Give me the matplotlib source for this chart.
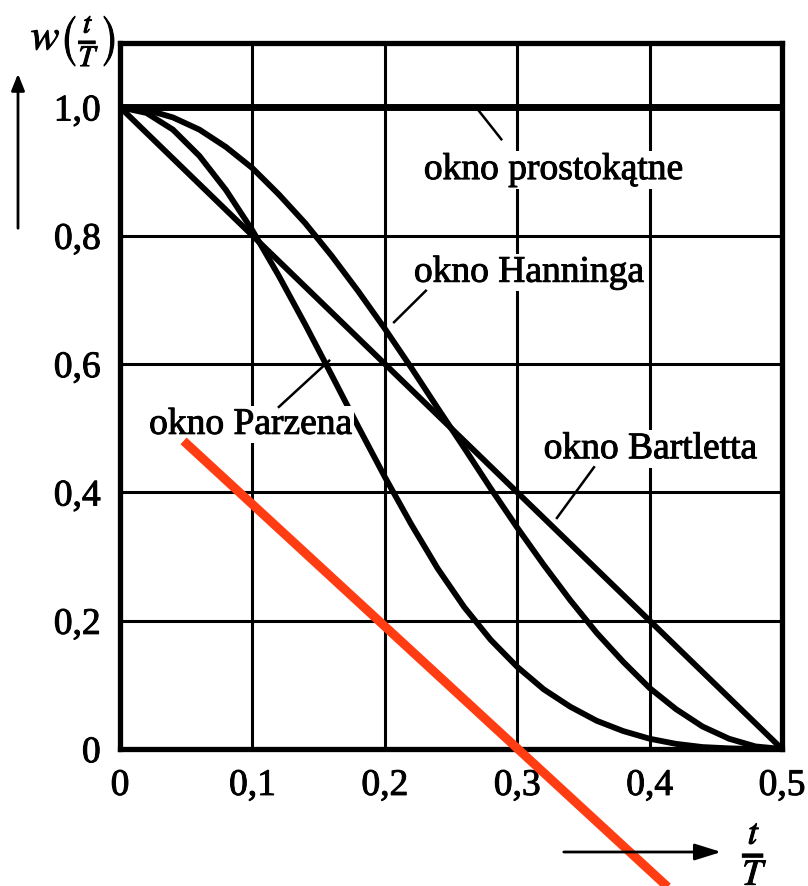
import matplotlib
matplotlib.use("Agg")
import matplotlib.pyplot as plt
import matplotlib.patheffects as pe

plt.rcParams["font.family"] = ["Liberation Serif", "DejaVu Serif"]
plt.rcParams["mathtext.fontset"] = "stix"

# normalised time t/T
t_over_T = [0.00, 0.02, 0.04, 0.06, 0.08, 0.10, 0.12, 0.14, 0.16, 0.18, 0.20,
            0.22, 0.24, 0.26, 0.28, 0.30, 0.32, 0.34, 0.36, 0.38, 0.40, 0.42,
            0.44, 0.46, 0.48, 0.50]

# window values w(t/T)
rect_w = [1.0] * len(t_over_T)
bartlett_w = [1.00, 0.96, 0.92, 0.88, 0.84, 0.80, 0.76, 0.72, 0.68, 0.64, 0.60,
              0.56, 0.52, 0.48, 0.44, 0.40, 0.36, 0.32, 0.28, 0.24, 0.20, 0.16,
              0.12, 0.08, 0.04, 0.00]
hanning_w = [1.000, 0.996, 0.984, 0.965, 0.938, 0.905, 0.864, 0.819, 0.768,
             0.713, 0.655, 0.594, 0.531, 0.469, 0.406, 0.345, 0.287, 0.232,
             0.181, 0.136, 0.095, 0.062, 0.035, 0.016, 0.004, 0.000]
parzen_w = [1.000, 0.991, 0.965, 0.924, 0.871, 0.808, 0.737, 0.661, 0.582,
            0.502, 0.424, 0.350, 0.281, 0.221, 0.170, 0.128, 0.093, 0.066,
            0.044, 0.028, 0.016, 0.008, 0.003, 0.001, 0.000, 0.000]

x_ticks = [0.0, 0.1, 0.2, 0.3, 0.4, 0.5]
x_tick_labels = ["0", "0,1", "0,2", "0,3", "0,4", "0,5"]
y_ticks = [0.0, 0.2, 0.4, 0.6, 0.8, 1.0]
y_tick_labels = ["0", "0,2", "0,4", "0,6", "0,8", "1,0"]

# red marker stroke
red_x = [0.048, 0.43]
red_y = [0.48, -0.246]

# slightly heavier glyphs, like a printed page
heavy = [pe.withStroke(linewidth=0.7, foreground="black")]

fig = plt.figure(figsize=(8.08, 8.87), dpi=100)
ax = fig.add_axes([120 / 808, 1 - 750 / 887, 662 / 808, 706 / 887])
ax.set_xlim(0, 0.5)
ax.set_ylim(0, 1.1)

ax.set_xticks(x_ticks)
ax.set_xticklabels(x_tick_labels)
ax.set_yticks(y_ticks)
ax.set_yticklabels(y_tick_labels)
ax.tick_params(length=0, labelsize=27, pad=14)
for lab in ax.get_xticklabels() + ax.get_yticklabels():
    lab.set_path_effects(heavy)
ax.grid(True, color="black", linewidth=2.2)
ax.set_axisbelow(True)
for s in ax.spines.values():
    s.set_linewidth(3.8)

lw = 4.2
ax.plot(t_over_T, rect_w, color="black", lw=5.0, solid_capstyle="butt", clip_on=False, zorder=3)
ax.plot(t_over_T, bartlett_w, color="black", lw=lw, zorder=3)
ax.plot(t_over_T, hanning_w, color="black", lw=lw, zorder=3, solid_joinstyle="round")
ax.plot(t_over_T, parzen_w, color="black", lw=lw, zorder=3, solid_joinstyle="round")

label_kw = dict(fontsize=27, va="baseline", ha="left", zorder=4, path_effects=heavy,
                bbox=dict(facecolor="white", edgecolor="none", pad=1.0))
ax.text(0.2295, 0.888, "okno prostokątne", **label_kw)
ax.text(0.222, 0.728, "okno Hanninga", **label_kw)
ax.text(0.022, 0.491, "okno Parzena", **label_kw)
ax.text(0.320, 0.453, "okno Bartletta", **label_kw)

# leader lines from labels to curves
leader_kw = dict(color="black", lw=1.8, zorder=5)
ax.plot([0.270, 0.288], [0.997, 0.950], **leader_kw)
ax.plot([0.231, 0.207], [0.714, 0.665], **leader_kw)
ax.plot([0.120, 0.158], [0.533, 0.605], **leader_kw)
ax.plot([0.358, 0.330], [0.439, 0.360], **leader_kw)

# red stroke across the plot
ax.plot(red_x, red_y, color="#ff3c12", lw=6.5, solid_capstyle="butt", clip_on=False, zorder=6)

# axis captions with arrows
fig.text(73 / 808, 1 - 42 / 887, r"$w\left(\frac{t}{T}\right)$", fontsize=31,
         ha="center", va="center", path_effects=heavy)
fig.patches.append(matplotlib.patches.FancyArrowPatch(
    (18 / 808, 1 - 232 / 887), (18 / 808, 1 - 72 / 887),
    transform=fig.transFigure, arrowstyle="-|>,head_length=10,head_width=4",
    color="black", lw=2.0, mutation_scale=1))
fig.patches.append(matplotlib.patches.FancyArrowPatch(
    (561 / 808, 1 - 853 / 887), (724 / 808, 1 - 853 / 887),
    transform=fig.transFigure, arrowstyle="-|>,head_length=16,head_width=5",
    color="black", lw=2.0, mutation_scale=1))
fig.text(755 / 808, 1 - 854 / 887, r"$\frac{t}{T}$", fontsize=38,
         ha="center", va="center", path_effects=heavy)

fig.savefig("out.png", dpi=100)
